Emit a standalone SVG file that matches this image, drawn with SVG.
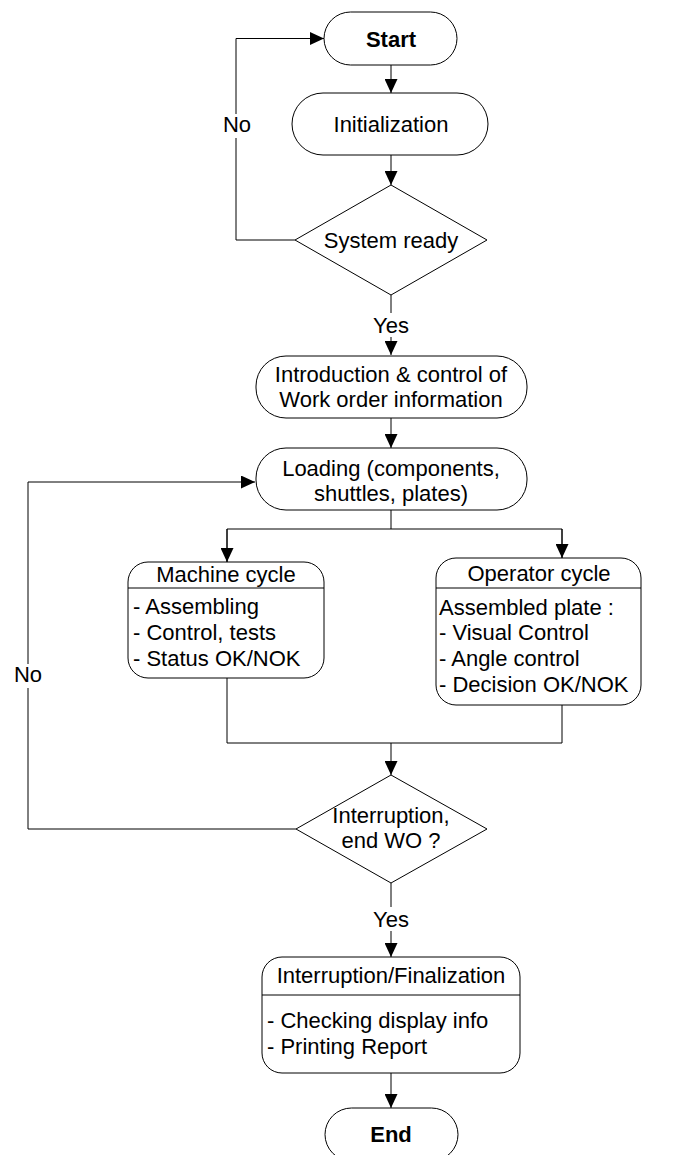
<svg xmlns="http://www.w3.org/2000/svg" width="677" height="1155" viewBox="0 0 677 1155">
<style>
.n{fill:#fff;stroke:#000;stroke-width:1}
.c{fill:none;stroke:#000;stroke-width:1}
text{font-family:"Liberation Sans",Arial,sans-serif;font-size:22px;fill:#000}
.m{text-anchor:middle}
.b{font-weight:bold}
.lbl{fill:#fff;stroke:none}
</style>
<defs>
<marker id="ah" markerUnits="userSpaceOnUse" markerWidth="14" markerHeight="13" refX="14" refY="6.5" orient="auto">
<path d="M0,0 L14,6.5 L0,13 z" fill="#000"/>
</marker>
</defs>
<g id="connectors">
<line class="c" x1="391" y1="65" x2="391" y2="93" marker-end="url(#ah)"/>
<line class="c" x1="391" y1="155" x2="391" y2="185" marker-end="url(#ah)"/>
<polyline class="c" points="295,240 236,240 236,38.5 324,38.5" marker-end="url(#ah)"/>
<line class="c" x1="391" y1="295" x2="391" y2="355" marker-end="url(#ah)"/>
<line class="c" x1="391" y1="418" x2="391" y2="448" marker-end="url(#ah)"/>
<polyline class="c" points="391,510 391,529"/>
<polyline class="c" points="227,562 227,529 562,529 562,558"/>
<line class="c" x1="227" y1="529" x2="227" y2="562" marker-end="url(#ah)"/>
<line class="c" x1="562" y1="529" x2="562" y2="558" marker-end="url(#ah)"/>
<polyline class="c" points="227,678 227,743 562,743 562,705"/>
<line class="c" x1="391" y1="743" x2="391" y2="775" marker-end="url(#ah)"/>
<polyline class="c" points="296,829 28,829 28,482 255,482" marker-end="url(#ah)"/>
<line class="c" x1="391" y1="883" x2="391" y2="957" marker-end="url(#ah)"/>
<line class="c" x1="391" y1="1073" x2="391" y2="1108" marker-end="url(#ah)"/>
<rect class="lbl" x="221" y="114" width="32" height="24"/>
<text class="m" x="237" y="132">No</text>
<rect class="lbl" x="372" y="313" width="38" height="24"/>
<text class="m" x="391" y="333">Yes</text>
<rect class="lbl" x="12" y="664" width="32" height="24"/>
<text class="m" x="28" y="682">No</text>
<rect class="lbl" x="372" y="907" width="38" height="24"/>
<text class="m" x="391" y="927">Yes</text>
</g>
<g id="start">
<rect class="n" x="324" y="12" width="133" height="53" rx="26.5"/>
<text class="m b" x="391" y="47">Start</text>
</g>
<g id="init">
<rect class="n" x="292" y="93" width="196" height="62" rx="31"/>
<text class="m" x="391" y="132">Initialization</text>
</g>
<g id="ready">
<polygon class="n" points="391,185 487,240 391,295 295,240"/>
<text class="m" x="391" y="248">System ready</text>
</g>
<g id="intro">
<rect class="n" x="256" y="356" width="271" height="62" rx="30"/>
<text class="m" x="391" y="382">Introduction &amp; control of</text>
<text class="m" x="391" y="407">Work order information</text>
</g>
<g id="loading">
<rect class="n" x="256" y="448" width="271" height="62" rx="30"/>
<text class="m" x="391" y="476">Loading (components,</text>
<text class="m" x="391" y="501">shuttles, plates)</text>
</g>
<g id="machine">
<rect class="n" x="128" y="562" width="196" height="116" rx="20"/>
<line class="c" x1="128" y1="588" x2="324" y2="588"/>
<text class="m" x="226" y="582">Machine cycle</text>
<text x="133" y="614">- Assembling</text>
<text x="133" y="640">- Control, tests</text>
<text x="133" y="666">- Status OK/NOK</text>
</g>
<g id="operator">
<rect class="n" x="436" y="558" width="205" height="147" rx="20"/>
<line class="c" x1="436" y1="588" x2="641" y2="588"/>
<text class="m" x="539" y="581">Operator cycle</text>
<text x="439" y="615">Assembled plate :</text>
<text x="439" y="640">- Visual Control</text>
<text x="439" y="666">- Angle control</text>
<text x="439" y="692">- Decision OK/NOK</text>
</g>
<g id="interrupt">
<polygon class="n" points="391,775 487,829 391,883 296,829"/>
<text class="m" x="391" y="823">Interruption,</text>
<text class="m" x="391" y="848">end WO ?</text>
</g>
<g id="final">
<rect class="n" x="262" y="957" width="258" height="116" rx="20"/>
<line class="c" x1="262" y1="995" x2="520" y2="995"/>
<text class="m" x="391" y="983">Interruption/Finalization</text>
<text x="267" y="1028">- Checking display info</text>
<text x="267" y="1054">- Printing Report</text>
</g>
<g id="end">
<rect class="n" x="325" y="1108" width="133" height="53" rx="26.5"/>
<text class="m b" x="391" y="1142">End</text>
</g>
</svg>
